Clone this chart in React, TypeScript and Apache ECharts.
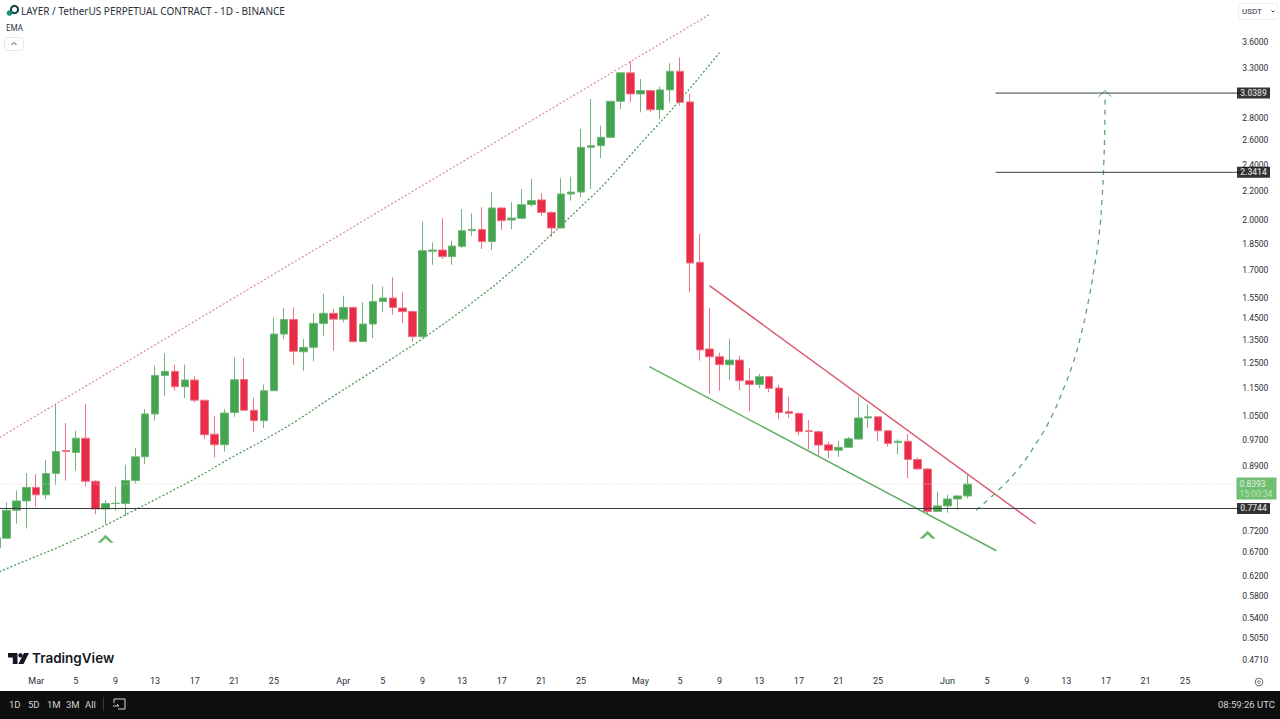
import React, { useEffect, useRef } from "react";
import * as echarts from "echarts";

// [open, close, low, high]
const febCandles = [
  [0.68, 0.703, 0.675, 0.703], [0.702, 0.77, 0.702, 0.79], [0.77, 0.794, 0.737, 0.821], [0.794, 0.83, 0.725, 0.87],
];
const marCandles = [
  [0.83, 0.81, 0.779, 0.867], [0.81, 0.869, 0.799, 0.908], [0.869, 0.934, 0.837, 1.092], [0.937, 0.934, 0.849, 1.026],
  [0.931, 0.976, 0.877, 1.0], [0.976, 0.847, 0.832, 1.092], [0.847, 0.773, 0.76, 0.85], [0.773, 0.787, 0.736, 0.796],
  [0.787, 0.788, 0.769, 0.832], [0.787, 0.849, 0.756, 0.894], [0.849, 0.918, 0.841, 0.945], [0.918, 1.057, 0.896, 1.074],
  [1.057, 1.2, 1.034, 1.239], [1.2, 1.216, 1.122, 1.29], [1.216, 1.156, 1.141, 1.243], [1.156, 1.182, 1.114, 1.243],
  [1.182, 1.106, 1.098, 1.195], [1.106, 0.987, 0.973, 1.106], [0.989, 0.955, 0.916, 1.051], [0.955, 1.06, 0.934, 1.074],
  [1.062, 1.183, 1.047, 1.273], [1.184, 1.07, 1.068, 1.27], [1.07, 1.034, 0.995, 1.114], [1.034, 1.141, 1.009, 1.164],
  [1.141, 1.375, 1.141, 1.452], [1.375, 1.442, 1.352, 1.498], [1.442, 1.299, 1.243, 1.501], [1.297, 1.316, 1.219, 1.352],
  [1.316, 1.424, 1.257, 1.472], [1.424, 1.472, 1.367, 1.569], [1.472, 1.444, 1.302, 1.493],
];
const aprCandles = [
  [1.444, 1.501, 1.429, 1.56], [1.501, 1.341, 1.338, 1.504], [1.341, 1.421, 1.341, 1.526], [1.421, 1.531, 1.357, 1.621],
  [1.53, 1.548, 1.477, 1.607], [1.548, 1.501, 1.465, 1.657], [1.498, 1.48, 1.426, 1.577], [1.481, 1.363, 1.341, 1.485],
  [1.363, 1.809, 1.36, 1.99], [1.805, 1.813, 1.727, 1.859], [1.813, 1.774, 1.76, 2.014], [1.774, 1.837, 1.727, 1.87],
  [1.835, 1.932, 1.825, 2.075], [1.932, 1.94, 1.9, 2.045], [1.94, 1.864, 1.819, 2.086], [1.864, 2.082, 1.813, 2.192],
  [2.082, 1.997, 1.936, 2.086], [2.001, 2.014, 1.942, 2.121], [2.012, 2.105, 2.008, 2.216], [2.105, 2.133, 2.091, 2.29],
  [2.138, 2.052, 2.03, 2.185], [2.052, 1.949, 1.894, 2.059], [1.949, 2.18, 1.949, 2.296], [2.18, 2.194, 2.133, 2.308],
  [2.194, 2.542, 2.156, 2.7], [2.542, 2.556, 2.216, 2.98], [2.556, 2.627, 2.454, 2.73], [2.627, 2.958, 2.622, 2.958],
  [2.958, 3.248, 2.884, 3.248], [3.248, 3.03, 2.948, 3.374],
];
const mayCandles = [
  [3.03, 3.064, 2.852, 3.183], [3.064, 2.877, 2.852, 3.071], [2.877, 3.071, 2.79, 3.104], [3.071, 3.265, 2.948, 3.352],
  [3.265, 2.948, 2.916, 3.418], [2.952, 1.737, 1.577, 3.03], [1.741, 1.305, 1.26, 1.911], [1.309, 1.276, 1.129, 1.498],
  [1.276, 1.243, 1.141, 1.294], [1.243, 1.262, 1.182, 1.352], [1.262, 1.179, 1.143, 1.28], [1.179, 1.165, 1.066, 1.229],
  [1.165, 1.195, 1.151, 1.206], [1.195, 1.15, 1.135, 1.199], [1.151, 1.062, 1.039, 1.163], [1.065, 1.059, 1.043, 1.119],
  [1.059, 0.997, 0.984, 1.062], [1.0, 0.998, 0.941, 1.036], [0.997, 0.954, 0.921, 1.0], [0.955, 0.938, 0.914, 0.965],
  [0.938, 0.947, 0.918, 0.968], [0.947, 0.974, 0.945, 0.98], [0.973, 1.043, 0.972, 1.119], [1.043, 1.047, 1.009, 1.09],
  [1.047, 1.0, 0.966, 1.047], [1.0, 0.959, 0.949, 1.002], [0.962, 0.966, 0.926, 0.972], [0.966, 0.91, 0.856, 0.989],
  [0.91, 0.882, 0.88, 0.916], [0.882, 0.767, 0.759, 0.885], [0.767, 0.781, 0.767, 0.818],
];
const junCandles = [
  [0.781, 0.799, 0.764, 0.81], [0.799, 0.807, 0.771, 0.808], [0.807, 0.8393, 0.801, 0.865],
];

const monthSpans: [string, number, number][] = [["Feb", 25, 28], ["Mar", 1, 31], ["Apr", 1, 30], ["May", 1, 31], ["Jun", 1, 30]];
const priceTicks = [3.6, 3.3, 2.8, 2.6, 2.4, 2.2, 2.0, 1.85, 1.7, 1.55, 1.45, 1.35, 1.25, 1.15, 1.05, 0.97, 0.89, 0.72, 0.67, 0.62, 0.58, 0.54, 0.505, 0.471];
const labelledDays = [1, 5, 9, 13, 17, 21, 25];

// [day index, price]
const upperChannel = [[0.29, 0.978], [71.97, 3.935]];
const lowerChannel = [
  [0.29, 0.629], [2.92, 0.652], [7.06, 0.6896], [11.1, 0.7341], [13.42, 0.7636], [16.75, 0.8075], [20.18, 0.8567], [23.51, 0.9122],
  [26.85, 0.9679], [30.28, 1.0338], [33.61, 1.1114], [36.94, 1.1908], [40.37, 1.2803], [43.0, 1.3541], [47.75, 1.5146], [52.5, 1.7165],
  [56.1, 1.9134], [59.86, 2.147], [61.58, 2.2706], [65.21, 2.5901], [68.95, 2.9645], [72.98, 3.4719],
];
const wedgeTop = [[71.97, 1.612], [104.9, 0.7364]];
const wedgeBottom = [[65.9, 1.2348], [100.95, 0.6738]];
const projection = [
  [98.9, 0.7701], [101.43, 0.83], [103.27, 0.8866], [105.02, 0.9625], [106.47, 1.0449], [107.64, 1.1411], [108.65, 1.2459],
  [109.5, 1.3752], [110.17, 1.5179], [110.77, 1.6939], [111.28, 1.8898], [111.62, 2.156], [111.78, 2.4066], [111.88, 2.6857],
  [111.92, 3.0132],
];
const projectionHead = [[111.25, 3.003], [111.9, 3.0637], [112.56, 3.003]];
const supportLevel = 0.7744;
const targetLevels = [3.0389, 2.3414];
const targetStart = 100.85;
const lastPrice = 0.8393;
const countdown = "15:00:34";
const lowMarkers = [[11, 0.701], [94, 0.71]];
const rangeButtons = ["1D", "5D", "1M", "3M", "All"];

const GREEN = "#43a64f";
const RED = "#ea2c48";
const FONT = "Roboto, 'Noto Sans', sans-serif";
const X_MIN = -0.5;
const X_MAX = 125.5;
const BADGE_X = 126.9;
const LAST_X = 127.2;

const hline = (price: number, from: number, to: number, color: string, type: any = "solid", width = 1) => ({
  type: "line", xAxisIndex: 1, yAxisIndex: 0, data: [[from, price], [to, price]], symbol: "none", silent: true,
  lineStyle: { color, width, type },
});
const trend = (data: number[][], color: string, type: any, width: number, smooth = false) => ({
  type: "line", xAxisIndex: 1, yAxisIndex: 0, data, symbol: "none", smooth, silent: true, z: 3,
  lineStyle: { color, width, type },
});
const btnX = [9, 28, 47, 66, 85];

export default function App() {
  const ref = useRef<HTMLDivElement>(null);
  useEffect(() => {
    document.body.style.margin = "0";
    const chart = echarts.init(ref.current!, undefined, { renderer: "svg" });
    const categories: string[] = [];
    monthSpans.forEach(([m, a, b]) => {
      for (let d = a; d <= b; d++) categories.push(`${m} ${d}`);
    });
    const candles = [...febCandles, ...marCandles, ...aprCandles, ...mayCandles, ...junCandles];
    const badge = (price: number) => ({
      value: [BADGE_X, price],
      label: { formatter: price.toFixed(4) },
    });
    chart.setOption({
      animation: false,
      backgroundColor: "#ffffff",
      grid: { left: -8.35, top: 0.6, width: 1248, height: 672, outerBoundsMode: "none" },
      xAxis: [
        {
          type: "category", data: categories, boundaryGap: true,
          axisLine: { show: false }, axisTick: { show: false }, splitLine: { show: false },
          axisLabel: {
            margin: 3.4, fontSize: 9, color: "#2a2e39", fontFamily: FONT,
            interval: (i: number, v: string) => i > 0 && labelledDays.includes(Number(v.split(" ")[1])),
            formatter: (v: string) => {
              const [m, d] = v.split(" ");
              return d === "1" ? m : d;
            },
          },
        },
        { type: "value", show: false, min: X_MIN, max: X_MAX, splitLine: { show: false } },
      ],
      yAxis: {
        type: "log", logBase: 1.4, position: "right", min: 0.4512, max: 4.12,
        axisLine: { show: false }, axisTick: { show: false }, splitLine: { show: false }, minorTick: { show: false },
        axisLabel: {
          customValues: priceTicks, margin: 2.5, fontSize: 8.5, color: "#2a2e39", fontFamily: FONT,
          formatter: (v: number) => Number(v).toFixed(4),
        },
      },
      series: [
        hline(lastPrice, X_MIN, X_MAX, "#d5dcd6", [1, 2]),
        {
          type: "candlestick", xAxisIndex: 0, yAxisIndex: 0, data: candles, barWidth: 8, z: 2,
          itemStyle: { color: GREEN, color0: RED, borderColor: "#72b57b", borderColor0: "#ec7486", borderWidth: 1 },
        },
        trend(upperChannel, "#d98a98", [2, 2], 1.2),
        trend(lowerChannel, "#4f9a58", [2, 2], 1.3, true),
        trend(wedgeTop, "#dc5c6e", "solid", 1.5),
        trend(wedgeBottom, "#5fae68", "solid", 1.5),
        trend(projection, "#5fa868", [5, 5], 1.3, true),
        trend(projectionHead, "#5fa868", "solid", 1),
        hline(supportLevel, X_MIN, X_MAX, "#333a40"),
        ...targetLevels.map((v) => hline(v, targetStart, X_MAX, "#3a4046")),
        {
          type: "scatter", xAxisIndex: 1, yAxisIndex: 0, data: lowMarkers, z: 4, silent: true,
          symbol: "path://M0,8 L8,0 L16,8 L12.6,8 L8,3.6 L3.4,8 Z", symbolSize: [16, 8],
          itemStyle: { color: GREEN },
        },
        {
          type: "scatter", xAxisIndex: 1, yAxisIndex: 0, clip: false, z: 6, silent: true,
          symbol: "rect", symbolSize: [33, 11],
          itemStyle: { color: "#000000" },
          label: { show: true, position: "inside", color: "#ffffff", fontSize: 8.5, fontWeight: 500, fontFamily: FONT },
          data: [...targetLevels, supportLevel].map(badge),
        },
        {
          type: "scatter", xAxisIndex: 1, yAxisIndex: 0, clip: false, z: 6, silent: true,
          symbol: "rect", symbolSize: [40, 22], symbolOffset: [0, 4.5],
          itemStyle: { color: "#4caf50" },
          label: {
            show: true, position: "inside", fontFamily: FONT, lineHeight: 10,
            formatter: `{p|${lastPrice.toFixed(4)}}\n{t|${countdown}}`,
            rich: {
              p: { color: "#ffffff", fontSize: 8.5, width: 34, align: "left", fontFamily: FONT },
              t: { color: "#d6efd7", fontSize: 8.5, width: 34, align: "left", fontFamily: FONT },
            },
          },
          data: [[LAST_X, lastPrice]],
        },
      ],
      graphic: [
        { type: "circle", shape: { cx: 14.5, cy: 9.5, r: 3.6 }, style: { fill: "none", stroke: "#12424a", lineWidth: 2 } },
        { type: "circle", shape: { cx: 9.5, cy: 13, r: 2.8 }, style: { fill: "#1f8f7a" } },
        { type: "text", x: 21, y: 6, style: { text: "LAYER / TetherUS PERPETUAL CONTRACT - 1D - BINANCE", fill: "#2a2e39", font: "10px 'Noto Sans', sans-serif" } },
        { type: "text", x: 6, y: 23, style: { text: "EMA", fill: "#2a2e39", font: "8px 'Noto Sans', sans-serif" } },
        { type: "rect", shape: { x: 4.5, y: 37.5, width: 19, height: 13, r: 2 }, style: { fill: "#fff", stroke: "#e6e8ec" } },
        { type: "polyline", shape: { points: [[11.5, 45], [14, 42.5], [16.5, 45]] }, style: { fill: "none", stroke: "#444", lineWidth: 1 } },
        { type: "rect", shape: { x: 1238.5, y: 3.5, width: 39, height: 16, r: 2 }, style: { fill: "#fff", stroke: "#eceef1" } },
        { type: "text", x: 1242, y: 7, style: { text: "USDT", fill: "#2a2e39", font: "8px Roboto, sans-serif" } },
        { type: "polyline", shape: { points: [[1271.5, 10.5], [1273, 12], [1274.5, 10.5]] }, style: { fill: "none", stroke: "#444", lineWidth: 1 } },
        { type: "polygon", shape: { points: [[8, 653], [17.5, 653], [17.5, 664], [12.8, 664], [12.8, 657.5], [8, 657.5]] }, style: { fill: "#131722" } },
        { type: "circle", shape: { cx: 20.5, cy: 655.3, r: 2.2 }, style: { fill: "#131722" } },
        { type: "polygon", shape: { points: [[24, 653], [29, 653], [23.5, 664], [18.3, 664]] }, style: { fill: "#131722" } },
        { type: "text", x: 32, y: 651, style: { text: "TradingView", fill: "#131722", font: "600 13.5px Inter, Roboto, sans-serif" } },
        { type: "ring", shape: { cx: 1259, cy: 682, r: 4.2, r0: 3.4 }, style: { fill: "#555" } },
        { type: "circle", shape: { cx: 1259, cy: 682, r: 1.3 }, style: { fill: "none", stroke: "#555", lineWidth: 0.8 } },
        { type: "rect", shape: { x: 0, y: 691, width: 1280, height: 28 }, style: { fill: "#0e0e0e" } },
        ...rangeButtons.map((t, i) => ({ type: "text", x: btnX[i], y: 699, style: { text: t, fill: "#d1d4dc", font: "9.5px Roboto, sans-serif" } })),
        { type: "line", shape: { x1: 103.5, y1: 697, x2: 103.5, y2: 711 }, style: { stroke: "#3a3a3a" } },
        { type: "polyline", shape: { points: [[114, 703], [114, 699], [125, 699], [125, 709], [118, 709]] }, style: { fill: "none", stroke: "#d1d4dc", lineWidth: 1 } },
        { type: "polyline", shape: { points: [[113, 706], [119, 706], [117, 704]] }, style: { fill: "none", stroke: "#d1d4dc", lineWidth: 1 } },
        { type: "text", x: 1218, y: 699, style: { text: "08:59:26 UTC", fill: "#d1d4dc", font: "9.5px Roboto, sans-serif" } },
      ],
    });
    return () => chart.dispose();
  }, []);
  return <div ref={ref} style={{ position: "fixed", left: 0, top: 0, width: 1280, height: 719 }} />;
}
